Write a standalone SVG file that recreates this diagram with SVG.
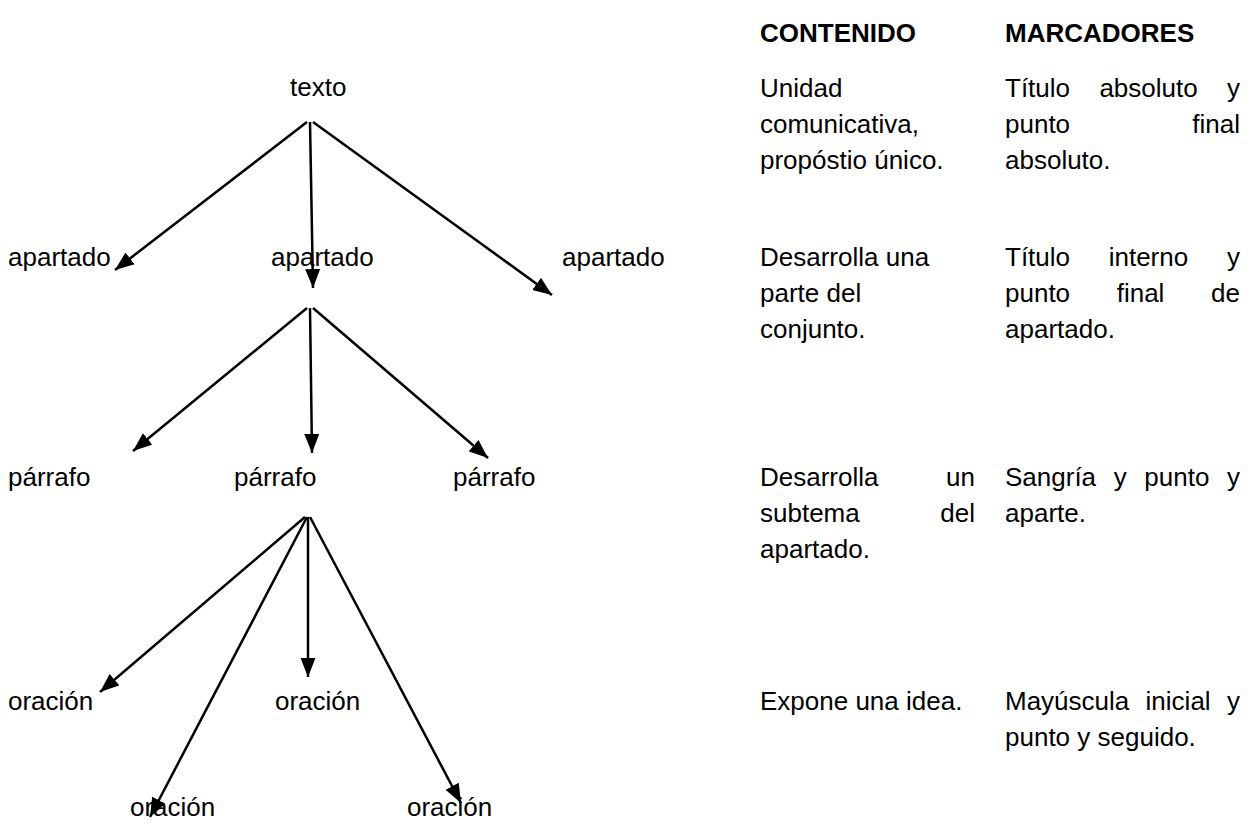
<svg xmlns="http://www.w3.org/2000/svg" width="1248" height="832" viewBox="0 0 1248 832">
<style>
text{font-family:"Liberation Sans",Arial,sans-serif;font-size:26px;fill:#000}
.h{font-weight:bold}
.e{text-anchor:end}
.c{stroke:#000;stroke-width:2.5;fill:none;marker-end:url(#ah)}
</style>
<defs>
<marker id="ah" markerUnits="userSpaceOnUse" markerWidth="20" markerHeight="16" refX="19" refY="8" orient="auto">
<path d="M0,0.5 L19,8 L0,15.5 Z" fill="#000"/>
</marker>
</defs>
<rect width="1248" height="832" fill="#fff"/>
<g id="connectors">
<line class="c" x1="307" y1="122" x2="115" y2="270"/>
<line class="c" x1="310" y1="122" x2="313" y2="288"/>
<line class="c" x1="313" y1="122" x2="552" y2="295"/>
<line class="c" x1="307" y1="308" x2="133" y2="451"/>
<line class="c" x1="310" y1="308" x2="312" y2="453"/>
<line class="c" x1="313" y1="308" x2="488" y2="458"/>
<line class="c" x1="305" y1="517" x2="100" y2="692"/>
<line class="c" x1="307" y1="517" x2="150" y2="817"/>
<line class="c" x1="308" y1="517" x2="308" y2="677"/>
<line class="c" x1="310" y1="517" x2="461" y2="803"/>
</g>
<g id="n-texto"><text x="290" y="96">texto</text></g>
<g id="n-apartado1"><text x="8" y="266">apartado</text></g>
<g id="n-apartado2"><text x="271" y="266">apartado</text></g>
<g id="n-apartado3"><text x="562" y="266">apartado</text></g>
<g id="n-parrafo1"><text x="8" y="486">párrafo</text></g>
<g id="n-parrafo2"><text x="234" y="486">párrafo</text></g>
<g id="n-parrafo3"><text x="453" y="486">párrafo</text></g>
<g id="n-oracion1"><text x="8" y="710">oración</text></g>
<g id="n-oracion2"><text x="275" y="710">oración</text></g>
<g id="n-oracion3"><text x="130" y="816">oración</text></g>
<g id="n-oracion4"><text x="407" y="816">oración</text></g>
<g id="table">
<text class="h" x="760" y="42">CONTENIDO</text>
<text class="h" x="1005" y="42">MARCADORES</text>
<text x="760" y="97">Unidad</text>
<text x="760" y="133">comunicativa,</text>
<text x="760" y="169">propóstio único.</text>
<text x="1005" y="97">Título</text><text x="1099.4" y="97">absoluto</text><text class="e" x="1240" y="97">y</text>
<text x="1005" y="133">punto</text><text class="e" x="1240" y="133">final</text>
<text x="1005" y="169">absoluto.</text>
<text x="760" y="266">Desarrolla una</text>
<text x="760" y="302">parte del</text>
<text x="760" y="338">conjunto.</text>
<text x="1005" y="266">Título</text><text x="1108.7" y="266">interno</text><text class="e" x="1240" y="266">y</text>
<text x="1005" y="302">punto</text><text x="1116.7" y="302">final</text><text class="e" x="1240" y="302">de</text>
<text x="1005" y="338">apartado.</text>
<text x="760" y="486">Desarrolla</text><text class="e" x="975" y="486">un</text>
<text x="760" y="522">subtema</text><text class="e" x="975" y="522">del</text>
<text x="760" y="558">apartado.</text>
<text x="1005" y="486">Sangría</text><text x="1113.7" y="486">y</text><text x="1144.3" y="486">punto</text><text class="e" x="1240" y="486">y</text>
<text x="1005" y="522">aparte.</text>
<text x="760" y="710">Expone una idea.</text>
<text x="1005" y="710">Mayúscula</text><text x="1145.6" y="710">inicial</text><text class="e" x="1240" y="710">y</text>
<text x="1005" y="746">punto y seguido.</text>
</g>
</svg>
